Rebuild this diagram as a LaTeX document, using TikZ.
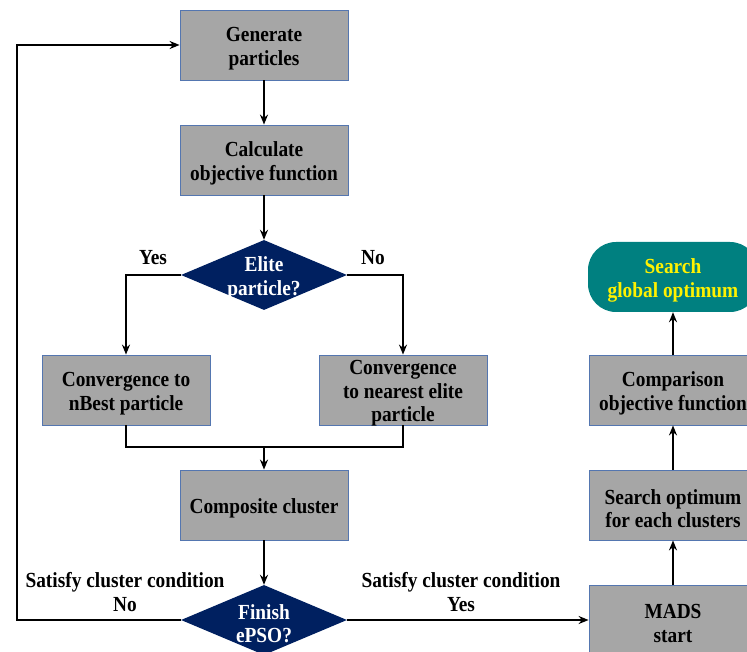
\documentclass[tikz,border=0pt]{standalone}
\usepackage{fontspec}
\setmainfont[FakeStretch=0.9]{Liberation Serif}
\usetikzlibrary{shapes.geometric,arrows.meta}
\definecolor{boxgray}{RGB}{166,166,166}
\definecolor{boxedge}{RGB}{84,118,176}
\definecolor{navyc}{RGB}{0,32,96}
\definecolor{tealc}{RGB}{0,128,128}
\begin{document}
\begin{tikzpicture}[x=1pt,y=-1pt,
  txt/.style={font=\bfseries\fontsize{21.5}{23.5}\selectfont, align=center},
  intxt/.style={txt, yshift=-3.5pt},
  procbox/.style={rectangle, draw=boxedge, line width=0.8pt, fill=boxgray,
    minimum width=168pt, minimum height=70pt, inner sep=0pt},
  decis/.style={diamond, fill=navyc, inner sep=0pt, minimum width=166pt, minimum height=70pt},
  dtext/.style={intxt, text=white},
  term/.style={rectangle, rounded corners=28pt, fill=tealc,
    minimum width=170pt, minimum height=70pt, inner sep=0pt},
  ttext/.style={intxt, text=yellow},
  lbl/.style={txt, inner sep=0pt},
  conn/.style={line width=1.7pt, draw=black},
  arr/.style={conn, -{Stealth[length=10pt,width=8pt]}}]
\useasboundingbox (0,0) rectangle (747,652);
\clip (0,0) rectangle (747,652);

\node[procbox, label={[intxt]center:Generate\\particles}] (gen) at (264,45) {};
\node[procbox, label={[intxt]center:Calculate\\objective function}] (calc) at (264,160) {};
\node[decis, label={[dtext]center:Elite\\particle?}] (elite) at (264,275) {};
\node[procbox, label={[intxt]center:Convergence to\\nBest particle}] (conv1) at (126,390) {};
\node[procbox, label={[intxt]center:Convergence\\to nearest elite\\particle}] (conv2) at (403,390) {};
\node[procbox, label={[intxt]center:Composite cluster}] (comp) at (264,505) {};
\node[decis, label={[dtext]center:Finish\\ePSO?}] (fin) at (264,620) {};
\node[procbox, label={[intxt]center:MADS\\start}] (mads) at (673,620) {};
\node[procbox, label={[intxt]center:Search optimum\\for each clusters}] (sopt) at (673,505) {};
\node[procbox, label={[intxt]center:Comparison\\objective function}] (cmp) at (673,390) {};
\node[term, label={[ttext]center:Search\\global optimum}] (glob) at (673,277) {};

\node[lbl] (yes1) at (153,258) {Yes};
\node[lbl] (no1) at (373,258) {No};
\node[lbl] (satno) at (125,592) {Satisfy cluster condition\\No};
\node[lbl] (satyes) at (461,592) {Satisfy cluster condition\\Yes};

\coordinate (m) at (264,447);
\coordinate (lc) at (17,330);

\draw[arr] (gen) -- (calc);
\draw[arr] (calc) -- (elite);
\draw[arr] (elite.west) -| (conv1.north);
\draw[arr] (elite.east) -| (conv2.north);
\draw[conn] (conv1.south) |- (m) -| (conv2.south);
\draw[arr] (m) -- (comp);
\draw[arr] (comp) -- (fin);
\draw[arr] (fin.west) -| (lc) |- (gen.west);
\draw[arr] (fin.east) -- (mads.west);
\draw[arr] (mads.north) -- (sopt.south);
\draw[arr] (sopt.north) -- (cmp.south);
\draw[arr] (cmp.north) -- (glob.south);
\end{tikzpicture}
\end{document}
